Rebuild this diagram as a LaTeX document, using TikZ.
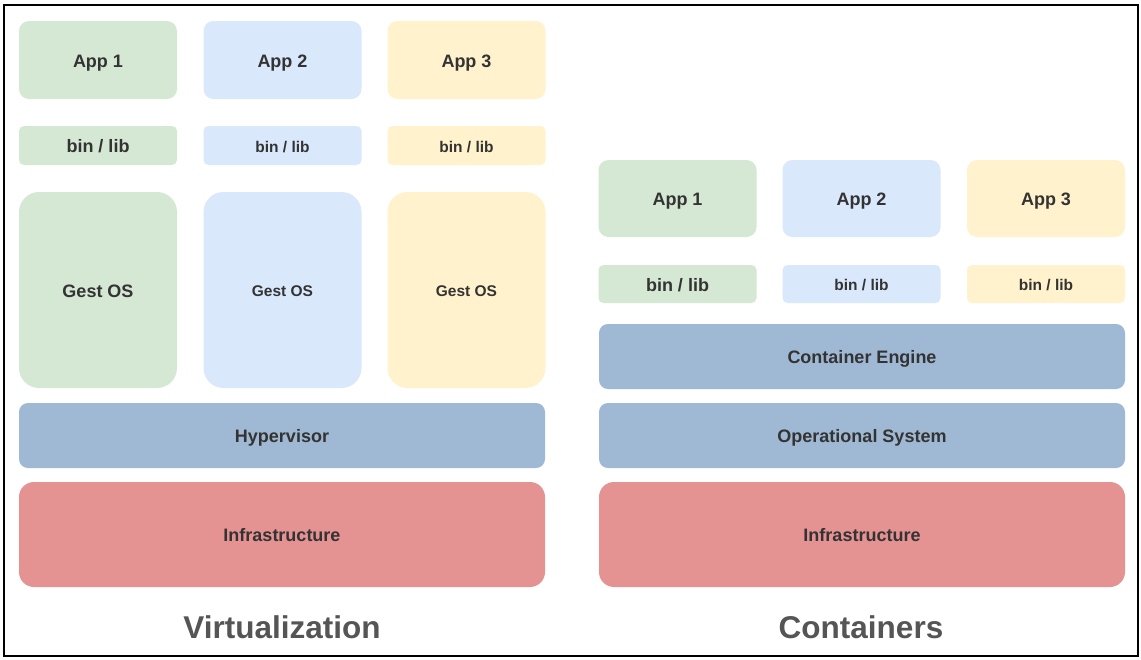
\documentclass[tikz,border=0pt]{standalone}
\usepackage{fontspec}
\setmainfont{Liberation Sans}
\definecolor{cgreen}{HTML}{D5E8D4}
\definecolor{cblue}{HTML}{DAE8FC}
\definecolor{cyellow}{HTML}{FFF2CC}
\definecolor{csteel}{HTML}{9FB8D3}
\definecolor{cred}{HTML}{E59292}
\definecolor{ctext}{HTML}{333333}
\definecolor{ctitle}{HTML}{555555}
\begin{document}
\begin{tikzpicture}[x=1pt,y=-1pt,
  box/.style={inner sep=0pt,outer sep=0pt,text=ctext,font=\bfseries\fontsize{18}{20}\selectfont,minimum width=158pt,text height=14.9pt,text depth=0pt},
  small/.style={font=\bfseries\fontsize{15.5}{18}\selectfont,text height=13.1pt},
  app/.style={box,minimum height=78pt,rounded corners=10pt},
  binlib/.style={box,minimum height=39pt,rounded corners=5pt},
  gest/.style={box,minimum height=196pt,rounded corners=20pt},
  layer/.style={box,minimum width=526pt,minimum height=65pt,rounded corners=9pt,fill=csteel},
  infra/.style={box,minimum width=526pt,minimum height=105pt,rounded corners=15pt,fill=cred},
  title/.style={inner sep=0pt,text=ctitle,font=\bfseries\fontsize{31.5}{34}\selectfont,text height=22.6pt,text depth=0pt}]
\useasboundingbox (0,0) rectangle (1141,659);
\fill[white] (0,0) rectangle (1141,659);
\draw[line width=2pt,black] (4,5) rectangle (1138,656);
% Virtualization
\node (va1) [app,fill=cgreen] at (98,60) {App 1};
\node (va2) [app,fill=cblue] at (282.5,60) {App 2};
\node (va3) [app,fill=cyellow] at (466.5,60) {App 3};
\node (vb1) [binlib,fill=cgreen] at (98,145.5) {bin / lib};
\node (vb2) [binlib,small,fill=cblue] at (282.5,145.5) {bin / lib};
\node (vb3) [binlib,small,fill=cyellow] at (466.5,145.5) {bin / lib};
\node (vg1) [gest,fill=cgreen] at (98,290) {Gest OS};
\node (vg2) [gest,small,fill=cblue] at (282.5,290) {Gest OS};
\node (vg3) [gest,small,fill=cyellow] at (466.5,290) {Gest OS};
\node (vhyp) [layer] at (282,435.5) {Hypervisor};
\node (vinf) [infra] at (282,534.5) {Infrastructure};
\node (vtitle) [title] at (282,627) {Virtualization};
% Containers
\node (ca1) [app,minimum height=77pt,fill=cgreen] at (677.5,198.5) {App 1};
\node (ca2) [app,minimum height=77pt,fill=cblue] at (861.5,198.5) {App 2};
\node (ca3) [app,minimum height=77pt,fill=cyellow] at (1046,198.5) {App 3};
\node (cb1) [binlib,minimum height=38pt,fill=cgreen] at (677.5,284) {bin / lib};
\node (cb2) [binlib,small,minimum height=38pt,fill=cblue] at (861.5,284) {bin / lib};
\node (cb3) [binlib,small,minimum height=38pt,fill=cyellow] at (1046,284) {bin / lib};
\node (ceng) [layer] at (862,356.5) {Container Engine};
\node (cos) [layer] at (862,435.5) {Operational System};
\node (cinf) [infra] at (862,534.5) {Infrastructure};
\node (ctitle) [title] at (861,627) {Containers};
\end{tikzpicture}
\end{document}
